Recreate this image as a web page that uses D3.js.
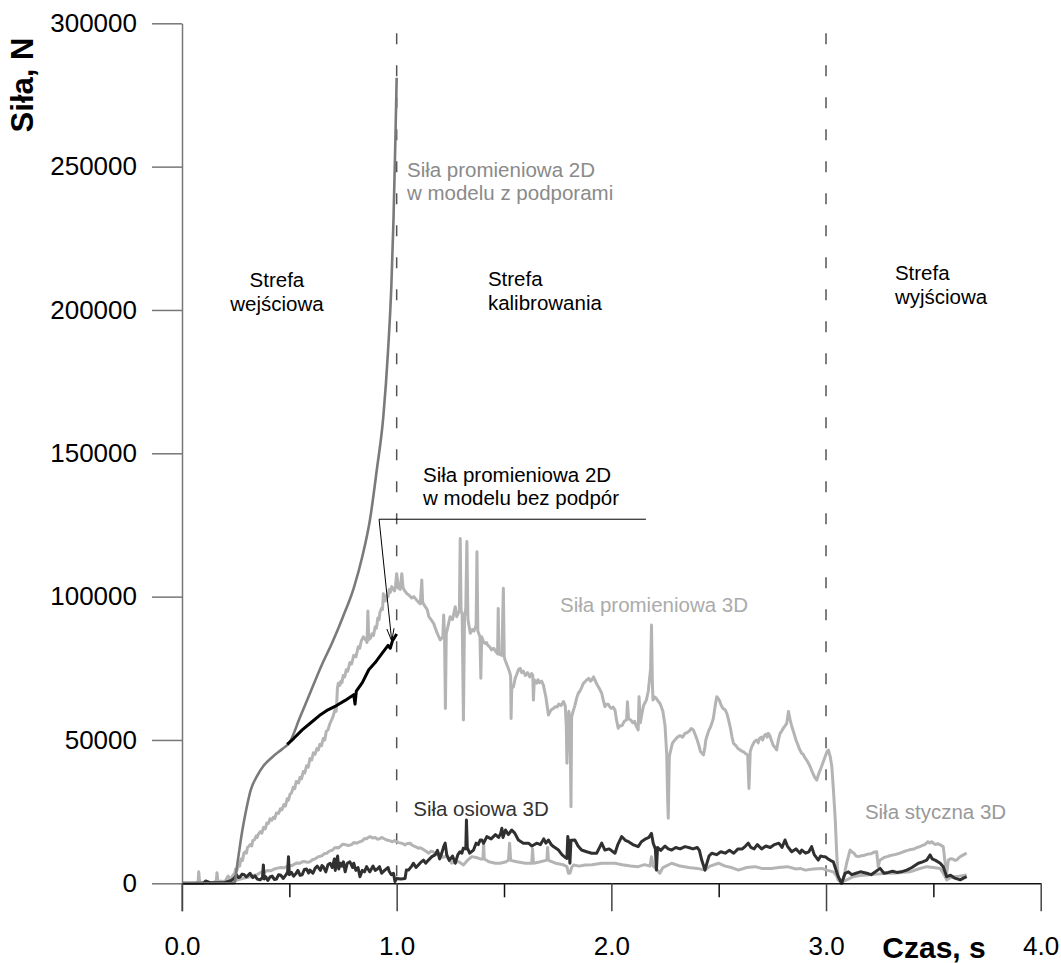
<!DOCTYPE html>
<html>
<head>
<meta charset="utf-8">
<script src="https://cdn.jsdelivr.net/npm/d3@7"></script>
<style>
  html, body { margin: 0; padding: 0; background: #fff; }
  svg { display: block; font-family: "Liberation Sans", Arial, Helvetica, sans-serif; }
</style>
</head>
<body>
<svg id="chart" width="1061" height="963"></svg>
<script>
// Axis ticks
const xMajorTicks = [0, 1, 2, 3, 4];
const xMinorTicks = [0.5, 1.5, 2.5, 3.5];
const yTicks = [0, 50000, 100000, 150000, 200000, 250000, 300000];
const zoneBounds = [1.0, 3.0];

// [czas s, siła N] — radial force, 2D model with supports
const radial2DSupported = [
  [0, 0], [0.243, 0], [0.26, 8000], [0.28, 18000], [0.30, 26000], [0.32, 32500],
  [0.35, 37500], [0.38, 41000], [0.42, 44000], [0.47, 47000], [0.50, 49000],
  [0.55, 58000], [0.60, 67000], [0.65, 76000], [0.70, 84000], [0.75, 93000],
  [0.80, 103000], [0.84, 114000], [0.876, 127000], [0.907, 144000], [0.938, 163000],
  [0.96, 186000], [0.975, 208000], [0.985, 231000], [0.993, 256000], [1.0, 281000]
];

// radial force, 2D model without supports
const radial2DFree = [
  [0.49, 48500], [0.52, 50500], [0.56, 53500], [0.60, 56000], [0.64, 58500],
  [0.68, 60500], [0.72, 62000], [0.76, 63800], [0.80, 65800], [0.806, 62500],
  [0.812, 67000], [0.84, 70000], [0.87, 74500], [0.90, 77000], [0.93, 80000],
  [0.96, 83000], [0.97, 82000], [0.98, 84500], [1.0, 87000]
];

// radial force, 3D model
const radial3D = [
  [0, 0], [0.06, 0], [0.075, 500], [0.078, 4000], [0.082, 500], [0.10, 300], [0.15, 300],
  [0.16, 1000], [0.163, 3700], [0.167, 800], [0.20, 600], [0.215, 2500], [0.225, 1200],
  [0.233, 2300], [0.245, 3500], [0.25, 5000], [0.256, 4600], [0.262, 6500], [0.268, 6000],
  [0.275, 8500], [0.282, 8000], [0.288, 10500], [0.294, 11000], [0.30, 10500], [0.305, 12500],
  [0.31, 12800], [0.318, 13500], [0.325, 13000], [0.33, 15000], [0.338, 15200], [0.345, 16500],
  [0.35, 16000], [0.356, 17200], [0.365, 18000], [0.372, 17500], [0.38, 19500], [0.388, 19000],
  [0.395, 21000], [0.403, 20900], [0.41, 22500], [0.418, 22000], [0.425, 23000], [0.432, 22600],
  [0.44, 24500], [0.45, 24400], [0.458, 26000], [0.465, 25600], [0.475, 27500], [0.482, 27000],
  [0.49, 29500], [0.496, 29000], [0.503, 31000], [0.51, 31500], [0.518, 33500], [0.525, 33000],
  [0.532, 35500], [0.543, 35000], [0.55, 37000], [0.557, 36500], [0.565, 39000], [0.572, 38500],
  [0.58, 41000], [0.588, 40500], [0.596, 43500], [0.604, 43000], [0.612, 45500], [0.62, 45000],
  [0.628, 47000], [0.635, 46500], [0.642, 48500], [0.65, 48000], [0.658, 50500], [0.665, 50000],
  [0.672, 53000], [0.68, 53500], [0.688, 55500], [0.697, 57000], [0.705, 58500], [0.712, 60500],
  [0.718, 60000], [0.72, 62000], [0.724, 68000], [0.728, 69800], [0.735, 69000], [0.74, 70500],
  [0.745, 70000], [0.751, 72500], [0.758, 72000], [0.765, 74500], [0.772, 74000], [0.782, 77000],
  [0.79, 76500], [0.80, 79500], [0.81, 79000], [0.821, 82500], [0.828, 82000], [0.835, 84500],
  [0.845, 86000], [0.855, 85000], [0.862, 84000], [0.866, 95000], [0.87, 85000], [0.878, 85500],
  [0.885, 87000], [0.892, 86500], [0.90, 89500], [0.906, 89000], [0.912, 92500], [0.918, 92000],
  [0.922, 94500], [0.93, 96000], [0.934, 95500], [0.938, 101000], [0.942, 99000], [0.948, 98500],
  [0.954, 100500], [0.96, 100000], [0.965, 102500], [0.97, 101500], [0.977, 103500], [0.984, 102500],
  [0.99, 102000], [0.995, 104000], [1.0, 108000], [1.008, 103000], [1.016, 102500], [1.024, 108000],
  [1.03, 103000], [1.038, 102000], [1.047, 101100], [1.058, 100500], [1.07, 99500], [1.08, 100000],
  [1.093, 98800], [1.102, 98000], [1.11, 97500], [1.117, 105800], [1.121, 98000], [1.133, 96500],
  [1.142, 95500], [1.15, 93000], [1.16, 92000], [1.172, 90700], [1.18, 89000], [1.19, 87000],
  [1.203, 84900], [1.215, 86000], [1.219, 93600], [1.223, 86000], [1.227, 61000], [1.231, 87000],
  [1.24, 90000], [1.249, 93000], [1.26, 92000], [1.273, 96500], [1.28, 93000], [1.292, 95000],
  [1.296, 120300], [1.30, 95000], [1.305, 94000], [1.311, 57000], [1.316, 93000], [1.322, 96000],
  [1.327, 119200], [1.332, 92000], [1.343, 87200], [1.352, 88500], [1.36, 88000], [1.37, 90000],
  [1.374, 115700], [1.378, 88000], [1.388, 86000], [1.392, 71500], [1.396, 86000], [1.403, 84500],
  [1.411, 83700], [1.418, 84000], [1.425, 83000], [1.433, 82500], [1.442, 81400], [1.452, 82000],
  [1.46, 81000], [1.47, 80000], [1.473, 95900], [1.476, 80000], [1.49, 79500], [1.497, 102900],
  [1.501, 79000], [1.505, 77900], [1.512, 76500], [1.52, 75000], [1.528, 73200], [1.531, 72000],
  [1.533, 57500], [1.536, 68000], [1.544, 68600], [1.552, 71500], [1.56, 73000], [1.567, 74500],
  [1.575, 75000], [1.582, 73500], [1.59, 74000], [1.6, 72500], [1.61, 73500], [1.62, 72000],
  [1.629, 73200], [1.634, 72500], [1.637, 63900], [1.641, 71000], [1.652, 69800], [1.658, 71000],
  [1.665, 70000], [1.675, 70500], [1.683, 69200], [1.695, 65000], [1.707, 58700], [1.715, 60000],
  [1.72, 60500], [1.73, 61000], [1.738, 61600], [1.748, 61500], [1.755, 62500], [1.766, 62000],
  [1.777, 63400], [1.785, 62000], [1.79, 55000], [1.793, 41900], [1.798, 57000], [1.802, 60000],
  [1.806, 58000], [1.81, 40000], [1.812, 26700], [1.815, 58100], [1.822, 60000], [1.83, 62000],
  [1.838, 64500], [1.846, 66300], [1.853, 67000], [1.86, 68000], [1.868, 69500], [1.877, 70300],
  [1.886, 71000], [1.895, 71500], [1.903, 70500], [1.91, 71000], [1.917, 72000], [1.924, 70900],
  [1.932, 69500], [1.94, 68500], [1.947, 67500], [1.955, 66300], [1.962, 64000], [1.97, 61600],
  [1.977, 62500], [1.985, 62500], [1.993, 61500], [2.0, 61000], [2.008, 61500], [2.017, 60400],
  [2.024, 57000], [2.032, 54100], [2.04, 55000], [2.05, 55000], [2.06, 56500], [2.071, 57000],
  [2.075, 63300], [2.08, 57500], [2.09, 57000], [2.1, 56000], [2.108, 56500], [2.115, 55000],
  [2.125, 53500], [2.129, 65100], [2.135, 56000], [2.142, 59000], [2.15, 62000], [2.157, 63000],
  [2.163, 63900], [2.172, 67000], [2.179, 72100], [2.183, 75000], [2.187, 90100], [2.191, 70000],
  [2.194, 63900], [2.202, 65000], [2.21, 64500], [2.218, 63500], [2.226, 62800], [2.233, 61500],
  [2.24, 60000], [2.25, 55000], [2.258, 45000], [2.262, 30000], [2.265, 22700], [2.27, 44000],
  [2.273, 45300], [2.28, 47500], [2.285, 49000], [2.296, 50000], [2.308, 51000], [2.32, 51500],
  [2.332, 51000], [2.343, 52300], [2.352, 52500], [2.362, 53000], [2.372, 54000], [2.382, 53500],
  [2.39, 52000], [2.40, 50000], [2.408, 48000], [2.415, 46000], [2.429, 44800], [2.435, 47000],
  [2.44, 50000], [2.448, 52000], [2.455, 53500], [2.462, 54500], [2.468, 55800], [2.475, 57500],
  [2.48, 60000], [2.486, 63000], [2.491, 65100], [2.498, 64500], [2.505, 63500], [2.512, 62000],
  [2.52, 61000], [2.53, 60500], [2.538, 59300], [2.546, 57000], [2.555, 54000], [2.562, 51000],
  [2.569, 48800], [2.58, 48000], [2.59, 47000], [2.6, 46500], [2.61, 46000], [2.617, 45800],
  [2.624, 45300], [2.635, 44800], [2.641, 33100], [2.647, 46000], [2.654, 47600], [2.66, 48500],
  [2.667, 49500], [2.677, 50000], [2.684, 49000], [2.69, 50500], [2.698, 51000], [2.705, 50000],
  [2.712, 51500], [2.72, 52000], [2.726, 51000], [2.731, 52300], [2.738, 51500], [2.745, 50000],
  [2.755, 48000], [2.762, 47500], [2.77, 46500], [2.778, 50000], [2.786, 52300], [2.793, 53000],
  [2.80, 54000], [2.81, 55000], [2.817, 55800], [2.825, 59900], [2.833, 57000], [2.841, 54600],
  [2.85, 52500], [2.86, 50000], [2.868, 48500], [2.875, 47000], [2.887, 45300], [2.894, 45000],
  [2.90, 44000], [2.91, 43000], [2.918, 41900], [2.927, 40500], [2.935, 39000], [2.941, 38000],
  [2.947, 37000], [2.957, 36000], [2.963, 37500], [2.97, 39000], [2.978, 40500], [2.985, 42000],
  [2.996, 44200], [3.005, 46000], [3.011, 46500], [3.02, 44000], [3.027, 40700], [3.035, 32000],
  [3.043, 22100], [3.05, 10000], [3.057, 1200], [3.073, 0], [3.085, 3000], [3.096, 7000],
  [3.112, 11600], [3.12, 11000], [3.13, 10500], [3.14, 9500], [3.15, 9300], [3.165, 9600],
  [3.18, 9800], [3.195, 10200], [3.21, 10300], [3.222, 10800], [3.236, 11000], [3.243, 5800],
  [3.25, 8000], [3.26, 8500], [3.27, 9000], [3.285, 9300], [3.30, 9700], [3.32, 10000],
  [3.344, 10500], [3.36, 11000], [3.38, 11500], [3.395, 11800], [3.41, 12000], [3.425, 12500],
  [3.437, 12800], [3.45, 13200], [3.46, 13500], [3.475, 14500], [3.483, 14000], [3.492, 14500],
  [3.5, 14000], [3.51, 13500], [3.52, 13800], [3.53, 13500], [3.546, 12800], [3.555, 7000],
  [3.562, 3500], [3.57, 8100], [3.58, 8600], [3.59, 8500], [3.6, 8000], [3.609, 8100],
  [3.62, 9000], [3.63, 9500], [3.642, 10000], [3.655, 10500]
];

// axial force, 3D model
const axial3D = [
  [0, 0], [0.10, 0], [0.11, 800], [0.13, 200], [0.20, 300], [0.23, 1000], [0.242, 1700],
  [0.255, 2900], [0.262, 2000], [0.27, 2200], [0.28, 3200], [0.29, 3000], [0.30, 2200],
  [0.317, 3500], [0.325, 2500], [0.33, 2000], [0.34, 2600], [0.35, 1500], [0.364, 1200],
  [0.375, 2000], [0.379, 6400], [0.383, 1500], [0.39, 2300], [0.40, 1000], [0.41, 2200],
  [0.42, 2500], [0.43, 1300], [0.44, 1500], [0.45, 3000], [0.46, 2800], [0.472, 1700],
  [0.485, 3000], [0.492, 4000], [0.496, 9300], [0.50, 3000], [0.51, 3800], [0.52, 2500],
  [0.53, 3300], [0.54, 4500], [0.55, 2800], [0.56, 3000], [0.57, 4800], [0.58, 5000],
  [0.59, 3600], [0.596, 4600], [0.61, 3500], [0.62, 5200], [0.63, 6000], [0.645, 4500],
  [0.652, 6200], [0.658, 5800], [0.67, 4000], [0.68, 6500], [0.69, 7000], [0.70, 5500],
  [0.71, 8500], [0.714, 4500], [0.72, 8100], [0.725, 9500], [0.73, 5000], [0.738, 7000],
  [0.745, 6000], [0.752, 7500], [0.76, 4000], [0.77, 7000], [0.782, 7500], [0.795, 5500],
  [0.80, 7000], [0.81, 4500], [0.82, 5500], [0.829, 2300], [0.84, 4500], [0.85, 4000],
  [0.86, 5800], [0.868, 4800], [0.875, 4000], [0.89, 6000], [0.90, 4500], [0.91, 5000],
  [0.92, 5800], [0.93, 3500], [0.945, 4600], [0.96, 5500], [0.965, 4200], [0.975, 3000],
  [0.985, 3500], [0.992, 600], [1.0, 1700], [1.02, 1500], [1.039, 1700], [1.045, 4600],
  [1.055, 4600], [1.07, 6000], [1.078, 7000], [1.09, 5500], [1.101, 6400], [1.115, 7500],
  [1.125, 8100], [1.135, 7000], [1.148, 8100], [1.164, 9300], [1.179, 9900], [1.19, 11500],
  [1.2, 8500], [1.21, 10500], [1.219, 12800], [1.226, 14000], [1.233, 10000], [1.245, 8000],
  [1.26, 9500], [1.273, 7000], [1.285, 10000], [1.295, 11000], [1.304, 10500], [1.31, 12200],
  [1.322, 12000], [1.325, 22100], [1.329, 12500], [1.34, 10500], [1.358, 11600], [1.37, 14000],
  [1.38, 13500], [1.389, 15100], [1.397, 15100], [1.405, 14000], [1.42, 16300], [1.44, 15500],
  [1.46, 17000], [1.475, 16000], [1.485, 17500], [1.49, 19200], [1.495, 16000], [1.507, 18600],
  [1.52, 17000], [1.536, 18600], [1.55, 17500], [1.567, 15100], [1.59, 14000], [1.614, 14000],
  [1.63, 13000], [1.652, 14000], [1.67, 13500], [1.685, 15500], [1.695, 14000], [1.707, 15100],
  [1.72, 13500], [1.73, 12800], [1.754, 11600], [1.77, 10000], [1.785, 9000], [1.793, 8700],
  [1.797, 16300], [1.802, 14000], [1.807, 7000], [1.812, 15000], [1.83, 15100], [1.845, 13000],
  [1.861, 11600], [1.885, 11000], [1.908, 10500], [1.932, 10500], [1.955, 14000], [1.97, 11600],
  [1.99, 12000], [2.017, 10500], [2.03, 13500], [2.048, 16300], [2.065, 15000], [2.08, 14500],
  [2.1, 13500], [2.125, 12800], [2.14, 14500], [2.16, 15500], [2.175, 16000], [2.187, 17400],
  [2.195, 14000], [2.205, 12000], [2.21, 4600], [2.215, 12500], [2.23, 11500], [2.25, 13000],
  [2.265, 12000], [2.281, 11600], [2.30, 12500], [2.32, 12000], [2.343, 12800], [2.36, 12500],
  [2.38, 12000], [2.4, 12500], [2.41, 11500], [2.421, 8100], [2.436, 4600], [2.445, 7000],
  [2.455, 9500], [2.468, 10500], [2.49, 10000], [2.51, 11000], [2.53, 10500], [2.55, 11500],
  [2.57, 10500], [2.59, 12000], [2.61, 12000], [2.625, 13000], [2.638, 14000], [2.65, 12500],
  [2.665, 12000], [2.68, 13500], [2.70, 12000], [2.72, 13000], [2.74, 12500], [2.76, 13500],
  [2.78, 14000], [2.795, 12500], [2.809, 15100], [2.82, 13000], [2.84, 11000], [2.86, 12000],
  [2.879, 10500], [2.887, 11600], [2.905, 10500], [2.92, 11000], [2.933, 12800], [2.945, 10000],
  [2.964, 8100], [2.975, 9500], [2.987, 9300], [2.996, 9300], [3.01, 8500], [3.02, 8000],
  [3.034, 7500], [3.045, 5000], [3.057, 2300], [3.073, 0], [3.089, 3500], [3.104, 4000],
  [3.12, 3000], [3.14, 3500], [3.16, 4000], [3.19, 3500], [3.21, 3000], [3.23, 4000],
  [3.252, 5200], [3.27, 3500], [3.29, 3800], [3.31, 4200], [3.33, 3800], [3.35, 4000],
  [3.376, 4600], [3.40, 5500], [3.43, 7000], [3.45, 7500], [3.469, 8100], [3.485, 9900],
  [3.495, 8500], [3.51, 8000], [3.532, 7000], [3.546, 5800], [3.562, 2300], [3.58, 2800],
  [3.60, 1800], [3.625, 1200], [3.64, 1800], [3.655, 2300]
];

// tangential force, 3D model
const tangential3D = [
  [0, 0], [0.07, 0], [0.08, 400], [0.09, 0], [0.2, 0], [0.239, 600], [0.26, 1200], [0.29, 1800],
  [0.317, 2300], [0.335, 2800], [0.35, 3000], [0.362, 3600], [0.373, 4000], [0.385, 4000],
  [0.40, 4500], [0.415, 4400], [0.43, 5000], [0.445, 5300], [0.46, 5500], [0.475, 5400],
  [0.487, 5800], [0.50, 6300], [0.51, 6100], [0.52, 6500], [0.535, 7100], [0.55, 7000],
  [0.562, 7600], [0.575, 7500], [0.585, 7300], [0.596, 7500], [0.608, 8200], [0.62, 8500],
  [0.635, 9300], [0.65, 9500], [0.662, 10300], [0.674, 10500], [0.688, 11300], [0.70, 11500],
  [0.71, 12300], [0.72, 12500], [0.728, 12300], [0.736, 12800], [0.748, 13600], [0.76, 13500],
  [0.775, 13200], [0.79, 13500], [0.80, 14200], [0.814, 14000], [0.828, 14500], [0.84, 14800],
  [0.85, 15600], [0.86, 15500], [0.868, 16000], [0.876, 16300], [0.888, 15800], [0.90, 16000],
  [0.91, 15400], [0.92, 15500], [0.93, 16000], [0.938, 15700], [0.95, 15200], [0.96, 15000],
  [0.97, 14800], [0.98, 14500], [0.99, 14900], [1.0, 14500], [1.01, 14200], [1.02, 14000],
  [1.03, 13800], [1.039, 13400], [1.05, 13900], [1.062, 14000], [1.07, 13400], [1.08, 13000],
  [1.09, 12700], [1.101, 12200], [1.11, 12400], [1.12, 12000], [1.13, 11500], [1.14, 11000],
  [1.148, 10500], [1.16, 11200], [1.17, 11000], [1.18, 10300], [1.19, 10000], [1.202, 10500],
  [1.215, 9000], [1.23, 9500], [1.24, 8700], [1.256, 7000], [1.27, 7500], [1.29, 7500],
  [1.311, 6400], [1.33, 8000], [1.35, 9300], [1.37, 9000], [1.39, 8500], [1.402, 8500],
  [1.405, 14000], [1.408, 8500], [1.43, 7500], [1.46, 7000], [1.482, 7000], [1.51, 7500],
  [1.521, 8100], [1.526, 14000], [1.531, 8000], [1.56, 7500], [1.60, 7000], [1.629, 7000],
  [1.633, 12000], [1.637, 7000], [1.67, 7500], [1.70, 8100], [1.703, 12500], [1.707, 8000],
  [1.74, 7000], [1.775, 6500], [1.793, 5800], [1.80, 3500], [1.807, 3500], [1.815, 5500],
  [1.824, 6400], [1.85, 6000], [1.877, 6400], [1.91, 6500], [1.955, 7000], [1.97, 7000],
  [2.0, 7000], [2.017, 7000], [2.05, 6500], [2.09, 6000], [2.125, 5800], [2.155, 6500],
  [2.18, 6000], [2.187, 9300], [2.195, 6000], [2.21, 5000], [2.226, 3500], [2.24, 5500],
  [2.281, 7000], [2.32, 6000], [2.36, 5500], [2.40, 5200], [2.436, 4600], [2.46, 6000],
  [2.499, 7000], [2.53, 6000], [2.56, 5500], [2.592, 4600], [2.63, 5500], [2.67, 5800],
  [2.70, 5200], [2.746, 5200], [2.78, 5500], [2.82, 5800], [2.86, 5000], [2.879, 5200],
  [2.904, 4600], [2.94, 5000], [2.981, 5200], [3.003, 4600], [3.034, 4000], [3.05, 2500],
  [3.057, 1200], [3.075, 500], [3.096, 1200], [3.127, 2300], [3.16, 2700], [3.19, 2900],
  [3.24, 3200], [3.28, 3500], [3.314, 3500], [3.35, 3800], [3.391, 4000], [3.43, 5000],
  [3.469, 5800], [3.50, 5500], [3.532, 5200], [3.55, 3000], [3.562, 1200], [3.575, 1800],
  [3.593, 2300], [3.62, 2500], [3.655, 2900]
];

const svg = d3.select("#chart");
svg.append("rect").attr("width", 1061).attr("height", 963).attr("fill", "#fff");

const x = d3.scaleLinear().domain([0, 4]).range([182, 1040.7]);
const y = d3.scaleLinear().domain([0, 300000]).range([883.3, 23.3]);

// zone boundaries (dashed)
svg.append("g").selectAll("line").data(zoneBounds).join("line")
  .attr("x1", d => x(d)).attr("x2", d => x(d))
  .attr("y1", y(300000) + 10).attr("y2", y(0))
  .attr("stroke", "#555").attr("stroke-width", 1.5)
  .attr("stroke-dasharray", "11 21");

const jagged = d3.line().x(d => x(d[0])).y(d => y(d[1]));
const smooth = d3.line().x(d => x(d[0])).y(d => y(d[1])).curve(d3.curveMonotoneX);

const series = [
  { data: radial3D, color: "#b4b4b4", width: 3, gen: jagged },
  { data: tangential3D, color: "#b4b4b4", width: 3, gen: jagged },
  { data: axial3D, color: "#303030", width: 3, gen: jagged },
  { data: radial2DSupported, color: "#7a7a7a", width: 2.6, gen: smooth },
  { data: radial2DFree, color: "#000", width: 3, gen: jagged }
];
svg.append("g").selectAll("path").data(series).join("path")
  .attr("d", d => d.gen(d.data))
  .attr("fill", "none")
  .attr("stroke", d => d.color)
  .attr("stroke-width", d => d.width)
  .attr("stroke-linejoin", "round");

// y axis
const yAxis = svg.append("g").attr("transform", `translate(${x(0)},0)`)
  .call(d3.axisLeft(y).tickValues(yTicks).tickSize(30).tickSizeOuter(0).tickPadding(15)
    .tickFormat(d3.format("d")));
yAxis.select(".domain").attr("stroke", "#777").attr("stroke-width", 1.5);
yAxis.selectAll(".tick line").attr("stroke", "#777").attr("stroke-width", 1.5);
yAxis.selectAll("text").attr("font-size", 26).attr("fill", "#000")
  .attr("font-family", "Liberation Sans, Arial, sans-serif");

// y axis continues down to the major tick length
svg.append("line").attr("x1", x(0)).attr("x2", x(0)).attr("y1", y(0)).attr("y2", y(0) + 28)
  .attr("stroke", "#777").attr("stroke-width", 1.5);

// x axis
const xAxis = svg.append("g").attr("transform", `translate(0,${y(0)})`)
  .call(d3.axisBottom(x).tickValues(xMajorTicks).tickSize(28).tickSizeOuter(0).tickPadding(25)
    .tickFormat(d3.format(".1f")));
xAxis.select(".domain").attr("stroke", "#111").attr("stroke-width", 1.5);
xAxis.selectAll(".tick line").attr("stroke", "#444").attr("stroke-width", 1.5);
xAxis.selectAll("text").attr("font-size", 26).attr("fill", "#000")
  .attr("font-family", "Liberation Sans, Arial, sans-serif");

const xMinor = svg.append("g").attr("transform", `translate(0,${y(0)})`)
  .call(d3.axisBottom(x).tickValues(xMinorTicks).tickSize(14).tickFormat(""));
xMinor.select(".domain").remove();
xMinor.selectAll(".tick line").attr("stroke", "#111").attr("stroke-width", 1.5);

// axis titles
svg.append("text").attr("x", 934).attr("y", 958).attr("text-anchor", "middle")
  .attr("font-size", 30).attr("font-weight", "bold").text("Czas, s");
svg.append("text").attr("transform", "translate(33,85) rotate(-90)").attr("text-anchor", "middle")
  .attr("font-size", 31).attr("font-weight", "bold").text("Siła, N");

// annotations: lines of text placed at (t, force of first baseline)
const notes = [
  { lines: ["Strefa", "wejściowa"], t: 0.442, v: 208000, anchor: "middle", color: "#000" },
  { lines: ["Strefa", "kalibrowania"], t: 1.425, v: 208300, anchor: "start", color: "#000" },
  { lines: ["Strefa", "wyjściowa"], t: 3.321, v: 210400, anchor: "start", color: "#000" },
  { lines: ["Siła promieniowa 2D", "w modelu z podporami"], t: 1.048, v: 246400, anchor: "start", color: "#8a8a8a" },
  { lines: ["Siła promieniowa 2D", "w modelu bez podpór"], t: 1.123, v: 140000, anchor: "start", color: "#000" },
  { lines: ["Siła promieniowa 3D"], t: 1.761, v: 94600, anchor: "start", color: "#ababab" },
  { lines: ["Siła osiowa 3D"], t: 1.077, v: 23500, anchor: "start", color: "#333" },
  { lines: ["Siła styczna 3D"], t: 3.181, v: 22500, anchor: "start", color: "#999" }
];
notes.forEach(n => {
  const t = svg.append("text").attr("font-size", 20.5).attr("fill", n.color)
    .attr("text-anchor", n.anchor);
  n.lines.forEach((s, i) => {
    t.append("tspan").attr("x", x(n.t)).attr("y", y(n.v) + i * 23.5).text(s);
  });
});

// leader for the unsupported 2D curve
const leaderStart = [0.918, 127000], leaderEnd = [2.161, 127000], arrowTip = [0.977, 84500];
svg.append("line")
  .attr("x1", x(leaderStart[0])).attr("y1", y(leaderStart[1]))
  .attr("x2", x(leaderEnd[0])).attr("y2", y(leaderEnd[1]))
  .attr("stroke", "#000").attr("stroke-width", 1);
const ax0 = x(leaderStart[0]), ay0 = y(leaderStart[1]), ax1 = x(arrowTip[0]), ay1 = y(arrowTip[1]);
svg.append("line").attr("x1", ax0).attr("y1", ay0).attr("x2", ax1).attr("y2", ay1)
  .attr("stroke", "#000").attr("stroke-width", 1);
const ang = Math.atan2(ay1 - ay0, ax1 - ax0), headLen = 13, spread = 0.28;
const head = [
  [ax1 - headLen * Math.cos(ang - spread), ay1 - headLen * Math.sin(ang - spread)],
  [ax1, ay1],
  [ax1 - headLen * Math.cos(ang + spread), ay1 - headLen * Math.sin(ang + spread)]
];
svg.append("path").attr("d", d3.line()(head)).attr("fill", "none")
  .attr("stroke", "#000").attr("stroke-width", 1);
</script>
</body>
</html>
